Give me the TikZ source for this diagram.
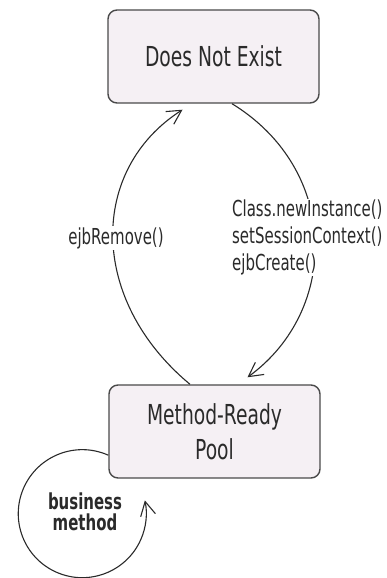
\documentclass[tikz,border=0pt]{standalone}
\usepackage{fontspec}
\setmainfont{DejaVu Sans}[FakeStretch=0.68]
\usetikzlibrary{arrows.meta,calc}
\definecolor{boxfill}{HTML}{F5F0F4}
\definecolor{ink}{HTML}{2A2A2A}
\begin{document}
\begin{tikzpicture}[x=1pt,y=1pt,
  statebox/.style={draw=ink!85, line width=1.4pt, fill=boxfill, rounded corners=9pt,
    minimum width=211pt, minimum height=93pt, inner sep=0pt, text=ink, align=center,
    font=\fontsize{27.5}{35}\selectfont},
  conn/.style={draw=ink, line width=1.1pt, -{Straight Barb[length=14pt,width=15pt,line width=1.1pt]}},
  lbl/.style={text=ink, font=\fontsize{22}{27}\selectfont, inner sep=1pt}]
\useasboundingbox (0,0) rectangle (387,578);
\node[statebox] (dne) at (213.5,521.5) {Does Not Exist};
\node[statebox] (mrp) at (214.5,146.5) {Method-Ready\\Pool};
% left arc: ejbRemove
\draw[conn] ([xshift=-24.5pt]mrp.north) .. controls (88.5,278) and (88.5,408) .. ([xshift=-31pt,yshift=-6pt]dne.south);
% right arc: create
\draw[conn] ([xshift=18.5pt]dne.south) .. controls (340,408) and (340,268) .. ([xshift=33pt,yshift=7pt]mrp.north);
\node[lbl, fill=white] (rm) at (116,340) {ejbRemove()};
\node[lbl, fill=white, anchor=west, align=left] (cr) at (231,340.5) {Class.newInstance()\\setSessionContext()\\ejbCreate()};
% business method loop
\draw[conn] ([yshift=23.5pt]mrp.south west) arc[start angle=66, end angle=372, radius=64pt];
\node[lbl, font=\fontsize{22}{21}\selectfont\bfseries, align=center] (bm) at (85,66) {business\\method};
\end{tikzpicture}
\end{document}
